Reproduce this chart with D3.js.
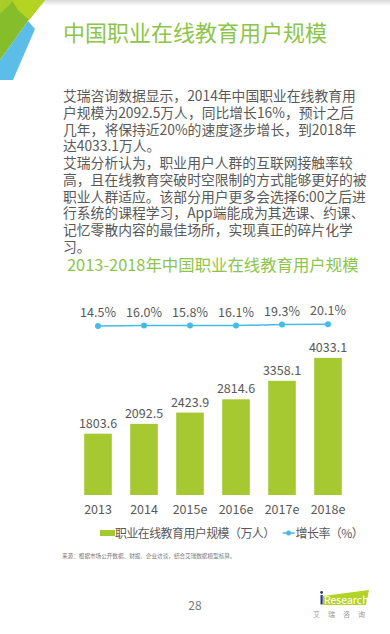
<!DOCTYPE html>
<html>
<head>
<meta charset="utf-8">
<script src="https://cdn.jsdelivr.net/npm/d3@7"></script>
<style>
  html, body { margin: 0; padding: 0; background: #fff; }
  svg { display: block; }
  text { font-family: "Noto Sans CJK SC", "Noto Sans", sans-serif; }
</style>
</head>
<body>
<script>
const categories = ["2013", "2014", "2015e", "2016e", "2017e", "2018e"];
const users = [1803.6, 2092.5, 2423.9, 2814.6, 3358.1, 4033.1];
const growth = [14.5, 16.0, 15.8, 16.1, 19.3, 20.1];
const growthLabels = ["14.5%", "16.0%", "15.8%", "16.1%", "19.3%", "20.1%"];
const userLabels = ["1803.6", "2092.5", "2423.9", "2814.6", "3358.1", "4033.1"];
const legendNames = ["职业在线教育用户规模（万人）", "增长率（%）"];

const pageTitle = "中国职业在线教育用户规模";
const chartTitle = "2013-2018年中国职业在线教育用户规模";
const paragraph = [
  "艾瑞咨询数据显示，2014年中国职业在线教育用",
  "户规模为2092.5万人，同比增长16%，预计之后",
  "几年，将保持近20%的速度逐步增长，到2018年",
  "达4033.1万人。",
  "艾瑞分析认为，职业用户人群的互联网接触率较",
  "高，且在线教育突破时空限制的方式能够更好的被",
  "职业人群适应。该部分用户更多会选择6:00之后进",
  "行系统的课程学习，App端能成为其选课、约课、",
  "记忆零散内容的最佳场所，实现真正的碎片化学",
  "习。"
];
const sourceNote = "来源：根据市场公开数据、财报、企业访谈，结合艾瑞数据模型核算。";

const W = 390, H = 634;
const GREEN = "#8dc54a", BAR = "#a6c831", BLUE = "#45bbe6", TXT = "#595959";

const svg = d3.select("body").append("svg").attr("width", W).attr("height", H);

// top gray band
const defs = svg.append("defs");
const g1 = defs.append("linearGradient").attr("id", "topg").attr("x1", 0).attr("y1", 0).attr("x2", 0).attr("y2", 1);
g1.append("stop").attr("offset", "0%").attr("stop-color", "#d8d8d8");
g1.append("stop").attr("offset", "100%").attr("stop-color", "#ffffff");
svg.append("rect").attr("x", 0).attr("y", 0).attr("width", W).attr("height", 6).attr("fill", "url(#topg)");

// corner decoration
svg.append("polygon").attr("points", "0,0 45,0 28,21 0,60").attr("fill", "#86bd2a");
svg.append("polygon").attr("points", "12,0 45,0 29,20 18,10").attr("fill", "#b5d321");
svg.append("polygon").attr("points", "0,0 14,0 0,14").attr("fill", "#a8cd2a");
svg.append("polygon").attr("points", "28,21 35,29 13,80 0,80 0,60").attr("fill", "#5cbde9");

// page title
svg.append("text").attr("x", 63).attr("y", 41).attr("font-size", 22).attr("fill", GREEN).text(pageTitle);

// paragraph
svg.append("g").selectAll("text").data(paragraph).join("text")
  .attr("x", 63).attr("y", (d, i) => 101 + i * 16.75)
  .attr("font-size", 13.8).attr("fill", TXT).text(d => d);

// chart title
svg.append("text").attr("x", 67).attr("y", 271).attr("font-size", 16.4).attr("fill", GREEN).text(chartTitle);

// scales
const x = d3.scaleBand().domain(categories).range([75, 351]).paddingInner(0.4).paddingOuter(0.2);
const y = d3.scaleLinear().domain([0, 4500]).range([495, 342]);
const yG = d3.scaleLinear().domain([0, 100]).range([330.4, 300]);
const cx = c => x(c) + x.bandwidth() / 2;

// bars
svg.append("g").selectAll("rect").data(users).join("rect")
  .attr("x", (d, i) => x(categories[i]))
  .attr("y", d => y(d))
  .attr("width", x.bandwidth())
  .attr("height", d => y(0) - y(d))
  .attr("fill", BAR);

svg.append("g").selectAll("text").data(users).join("text")
  .attr("x", (d, i) => cx(categories[i]))
  .attr("y", d => y(d) - 6)
  .attr("text-anchor", "middle").attr("font-size", 12.5).attr("fill", TXT)
  .text((d, i) => userLabels[i]);

// x axis labels
const xAxis = d3.axisBottom(x).tickSize(0).tickPadding(10);
const ax = svg.append("g").attr("transform", "translate(0,495)").call(xAxis);
ax.select(".domain").remove();
ax.selectAll("text").attr("font-size", 12.5).attr("fill", TXT)
  .attr("font-family", "\"Noto Sans CJK SC\", sans-serif");

// growth line
const line = d3.line().x((d, i) => cx(categories[i])).y(d => yG(d));
svg.append("path").datum(growth).attr("d", line).attr("fill", "none").attr("stroke", BLUE).attr("stroke-width", 1.5);
svg.append("g").selectAll("circle").data(growth).join("circle")
  .attr("cx", (d, i) => cx(categories[i])).attr("cy", d => yG(d)).attr("r", 3).attr("fill", BLUE);
svg.append("g").selectAll("text").data(growth).join("text")
  .attr("x", (d, i) => cx(categories[i])).attr("y", d => yG(d) - 9)
  .attr("text-anchor", "middle").attr("font-size", 12.5).attr("fill", TXT)
  .text((d, i) => growthLabels[i]);

// legend
const lg = svg.append("g");
lg.append("rect").attr("x", 100).attr("y", 530).attr("width", 15).attr("height", 6).attr("fill", BAR);
const t1 = lg.append("text").attr("x", 115).attr("y", 537.5).attr("font-size", 12).attr("fill", TXT)
  .attr("letter-spacing", -0.6).text(legendNames[0]);
const end1 = 115 + t1.node().getComputedTextLength();
const lx = Math.max(end1 + 8, 278);
lg.append("line").attr("x1", lx).attr("x2", lx + 12).attr("y1", 533).attr("y2", 533).attr("stroke", BLUE).attr("stroke-width", 1.5);
lg.append("circle").attr("cx", lx + 6).attr("cy", 533).attr("r", 2.5).attr("fill", BLUE);
lg.append("text").attr("x", lx + 13).attr("y", 537.5).attr("font-size", 12).attr("fill", TXT)
  .attr("letter-spacing", -0.6).text(legendNames[1]);

// source note
svg.append("text").attr("x", 62).attr("y", 558).attr("font-size", 5.6).attr("fill", "#777").text(sourceNote);

// page number
svg.append("text").attr("x", 195).attr("y", 610).attr("text-anchor", "middle").attr("font-size", 12).attr("fill", "#777").text("28");

// iResearch logo
svg.append("polygon").attr("points", "323,596 369,590 366,605 323,605").attr("fill", "#b3d22a");
svg.append("rect").attr("x", 320.5).attr("y", 595).attr("width", 2.2).attr("height", 9.5).attr("fill", "#2a3d6e");
svg.append("circle").attr("cx", 321.6).attr("cy", 592.5).attr("r", 1.4).attr("fill", "#2a3d6e");
svg.append("text").attr("x", 324).attr("y", 603.5).attr("font-size", 10.5).attr("fill", "#fff")
  .attr("font-family", "Arial, \"Liberation Sans\", sans-serif").text("Research");
svg.append("text").attr("x", 313).attr("y", 617).attr("font-size", 7).attr("fill", "#999")
  .attr("letter-spacing", 8).text("艾瑞咨询");
</script>
</body>
</html>
